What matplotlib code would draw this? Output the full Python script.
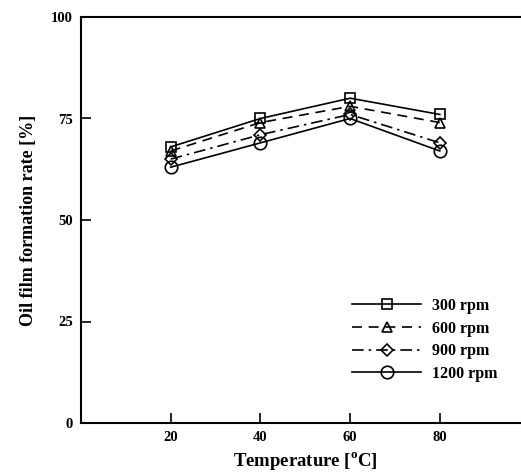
import matplotlib
matplotlib.use('Agg')
import matplotlib.pyplot as plt

# temperatures and oil film formation rate per rotation speed
temperature = [20, 40, 60, 80]
rate_300 = [68, 75, 80, 76]
rate_600 = [67, 74, 78, 74]
rate_900 = [65, 71, 76, 69]
rate_1200 = [63, 69, 75, 67]
labels = ['300 rpm', '600 rpm', '900 rpm', '1200 rpm']

plt.rcParams['font.family'] = 'Liberation Serif'
plt.rcParams['font.weight'] = 'bold'

fig = plt.figure(figsize=(5.21, 4.73), dpi=100)
ax = fig.add_axes([81 / 521, 50 / 473, 448.5 / 521, 406 / 473])

series = [rate_300, rate_600, rate_900, rate_1200]
styles = [('-', 's', 7), ((0, (6, 4)), '^', 7.5), ((0, (7, 3, 1.5, 3)), 'D', 6), ('-', 'o', 9)]
for vals, lab, (ls, mk, ms) in zip(series, labels, styles):
    ax.plot(temperature, vals, color='black', linestyle=ls, linewidth=1.2,
            marker=mk, markersize=ms, markerfacecolor='none',
            markeredgecolor='black', markeredgewidth=1.2, label=lab)

ax.set_xlim(0, 100)
ax.set_ylim(0, 100)
ax.set_xticks(temperature)
ax.set_yticks([0, 25, 50, 75, 100])
ax.tick_params(direction='in', length=7, width=1.2, labelsize=10.5, pad=6)
for lbl in ax.get_xticklabels() + ax.get_yticklabels():
    lbl.set_fontweight('bold')
for s in ax.spines.values():
    s.set_linewidth(1.5)

ax.set_xlabel('Temperature [$^{\\mathregular{o}}$C]', fontsize=13.5, fontweight='bold', labelpad=4)
ax.set_ylabel('Oil film formation rate [%]', fontsize=13, fontweight='bold', labelpad=10)

leg = ax.legend(loc='center left', bbox_to_anchor=(338 / 521, 133 / 473),
                bbox_transform=fig.transFigure, frameon=False, fontsize=11.5,
                handlelength=4.3, labelspacing=0.42, handletextpad=0.7)

fig.savefig('out.png', dpi=100)
